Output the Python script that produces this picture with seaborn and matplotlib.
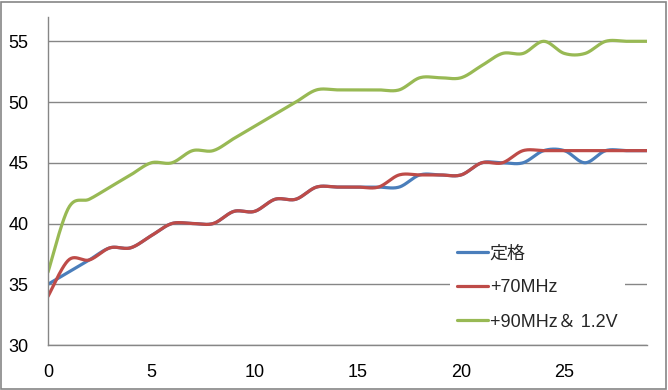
import numpy as np
import pandas as pd
import matplotlib
matplotlib.use("Agg")
import matplotlib.pyplot as plt
import seaborn as sns

# datos
x = list(range(30))
teikaku = [35, 36, 37, 38, 38, 39, 40, 40, 40, 41, 41, 42, 42, 43, 43,
           43, 43, 43, 44, 44, 44, 45, 45, 45, 46, 46, 45, 46, 46, 46]
mhz70 = [34, 37, 37, 38, 38, 39, 40, 40, 40, 41, 41, 42, 42, 43, 43,
         43, 43, 44, 44, 44, 44, 45, 45, 46, 46, 46, 46, 46, 46, 46]
mhz90 = [36, 41.3, 42, 43, 44, 45, 45, 46, 46, 47, 48, 49, 50, 51, 51,
         51, 51, 51, 52, 52, 52, 53, 54, 54, 55, 54, 54, 55, 55, 55]
labels = ["定格", "+70MHz", "+90MHz＆ 1.2V"]
colors = ["#4A7EBB", "#BE4B48", "#98B954"]


def smooth(xs, ys, n=24):
    # curva suavizada tipo Excel (bezier / catmull-rom)
    pts = np.column_stack([xs, ys]).astype(float)
    p = np.vstack([pts[0], pts, pts[-1]])
    t = np.linspace(0, 1, n, endpoint=False)[:, None]
    out = []
    for i in range(1, len(p) - 2):
        p0, p1, p2, p3 = p[i - 1], p[i], p[i + 1], p[i + 2]
        c1 = p1 + (p2 - p0) / 6
        c2 = p2 - (p3 - p1) / 6
        seg = (1 - t) ** 3 * p1 + 3 * (1 - t) ** 2 * t * c1 + 3 * (1 - t) * t ** 2 * c2 + t ** 3 * p2
        out.append(seg)
    out.append(pts[-1:])
    return np.vstack(out)


sns.set_style("white")
plt.rcParams["font.family"] = ["Liberation Sans", "Noto Sans CJK JP"]

fig = plt.figure(figsize=(6.68, 3.90), dpi=100)
fig.patches.append(plt.Rectangle((0.002, 0.003), 0.995, 0.993, transform=fig.transFigure,
                                 fill=False, edgecolor="#868686", linewidth=1.2))
ax = fig.add_axes([48 / 668, 1 - 345 / 390, (647 - 48) / 668, (345 - 17) / 390])

for serie, lab, col in zip([teikaku, mhz70, mhz90], labels, colors):
    c = smooth(x, serie)
    df = pd.DataFrame({"x": c[:, 0], "y": c[:, 1]})
    sns.lineplot(data=df, x="x", y="y", ax=ax, color=col, linewidth=2.3,
                 sort=False, estimator=None, label=lab)

ax.set_xlim(0, 29)
ax.set_ylim(30, 57)
ax.set_xticks([0, 5, 10, 15, 20, 25])
ax.set_yticks([30, 35, 40, 45, 50, 55])
ax.set_xlabel("")
ax.set_ylabel("")
ax.yaxis.grid(True, color="#868686", linewidth=1)
ax.xaxis.grid(False)
ax.set_axisbelow(True)
for s in ["top", "right"]:
    ax.spines[s].set_visible(False)
for s in ["left", "bottom"]:
    ax.spines[s].set_color("#868686")
    ax.spines[s].set_linewidth(1)
ax.tick_params(axis="both", direction="out", length=6, width=1, color="#868686",
               labelsize=13, labelcolor="black", pad=8)

leg = ax.legend(loc="upper left", bbox_to_anchor=(441 / 668, 1 - 229 / 390),
                bbox_transform=fig.transFigure, frameon=True, facecolor="white",
                edgecolor="none", framealpha=1, fancybox=False,
                handlelength=1.7, handletextpad=0.1, labelspacing=0.95,
                borderpad=0.4, prop={"family": ["Liberation Sans", "Noto Sans CJK JP"], "size": 13})
for h in leg.get_lines():
    h.set_linewidth(2.3)

fig.savefig("out.png", dpi=100)
